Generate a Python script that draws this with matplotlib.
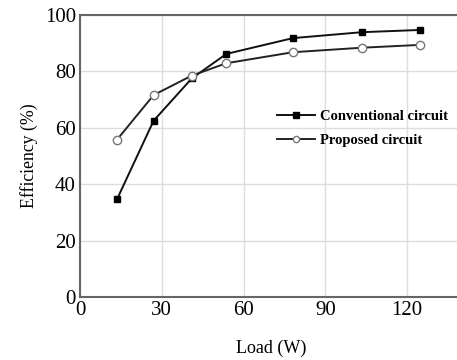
import matplotlib.pyplot as plt
import numpy as np

plt.rcParams['font.family'] = ['Liberation Serif', 'DejaVu Serif']

load = [13.6, 27.0, 41.0, 53.7, 78.1, 103.4, 124.8]
conventional = [34.7, 62.5, 77.5, 86.2, 91.8, 93.9, 94.7]
proposed = [55.8, 71.6, 78.5, 82.9, 86.8, 88.4, 89.4]

fig = plt.figure(figsize=(4.57, 3.6), dpi=100)
ax = fig.add_axes([80/457, 63/360, 1 - 80/457 + 0.01, 282/360])

ax.plot(load, conventional, color='#111111', lw=1.4, marker='s', ms=5,
        mfc='black', mec='black', label='Conventional circuit')
ax.plot(load, proposed, color='#222222', lw=1.4, marker='o', ms=6,
        mfc='white', mec='#777777', label='Proposed circuit')

ax.set_xlim(0, 140)
ax.set_ylim(0, 100)
ax.set_xticks([0, 30, 60, 90, 120])
ax.set_yticks([0, 20, 40, 60, 80, 100])
ax.grid(True, color='#dddddd', lw=1)
ax.set_axisbelow(True)
ax.tick_params(length=0, labelsize=15, pad=3)
for s in ['left', 'bottom', 'top']:
    ax.spines[s].set_color('#666666')
    ax.spines[s].set_linewidth(1.5)
ax.spines['right'].set_visible(False)

ax.set_xlabel('Load (W)', fontsize=13, labelpad=14)
ax.set_ylabel('Efficiency (%)', fontsize=12.8, labelpad=5)

leg = ax.legend(loc='upper left', bbox_to_anchor=(0.5, 0.685), frameon=False,
                prop={'weight': 'bold', 'size': 10.5}, handlelength=2.6,
                labelspacing=0.75, handletextpad=0.4, borderaxespad=0,
                markerscale=0.75)

fig.savefig('out.png')
